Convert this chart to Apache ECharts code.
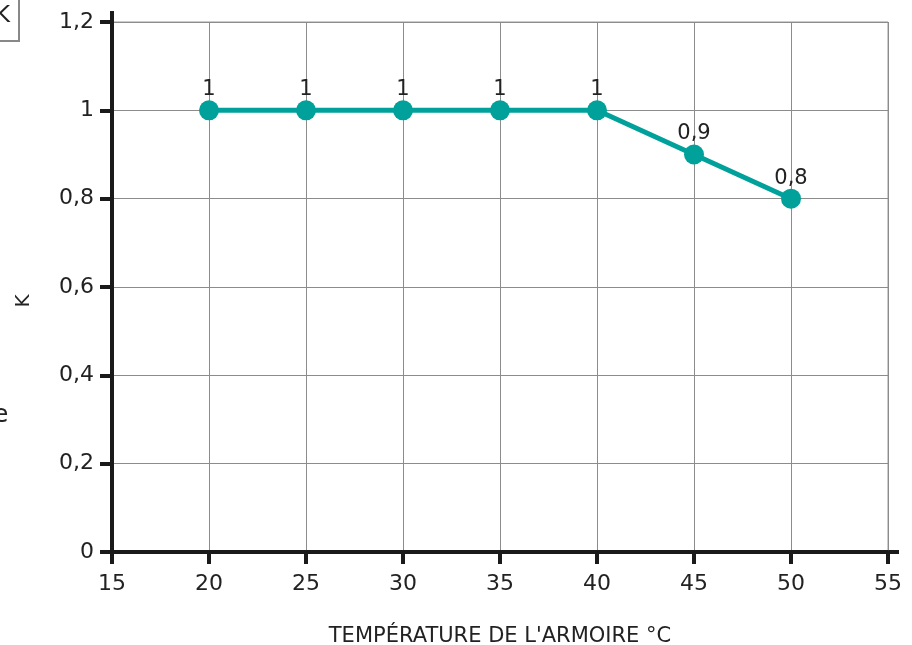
<!DOCTYPE html>
<html><head><meta charset="utf-8">
<script src="https://cdn.jsdelivr.net/npm/echarts@6/dist/echarts.min.js"></script>
<style>html,body{margin:0;padding:0;background:#fff}#c{width:912px;height:645px}</style>
</head><body><div id="c"></div>
<script>
const temperatures = [20, 25, 30, 35, 40, 45, 50];
const kValues = [1, 1, 1, 1, 1, 0.9, 0.8];
const xTicks = [15, 20, 25, 30, 35, 40, 45, 50, 55];
const yTicks = [0, 0.2, 0.4, 0.6, 0.8, 1, 1.2];
const xName = "TEMPÉRATURE DE L'ARMOIRE °C";
const yName = "K";

const font = 'DejaVu Sans';
const fmt = v => String(Math.round(v * 10) / 10).replace('.', ',');
const chart = echarts.init(document.getElementById('c'));
const extras = [
  { type: 'rect', left: -10, top: -10, shape: { width: 28, height: 50 }, style: { fill: '#fff', stroke: '#888', lineWidth: 2 } },
  { type: 'text', left: -5, top: 5, style: { text: 'K', font: '23px DejaVu Sans', fill: '#222' } },
  { type: 'text', left: -7, top: 403, style: { text: 'e', font: '25px DejaVu Sans', fill: '#222' } }
];
chart.setOption({
  animation: false,
  textStyle: { fontFamily: font },
  grid: { left: 112, right: 24, top: 22, bottom: 93, show: true, borderColor: '#999', borderWidth: 1, containLabel: false, outerBoundsMode: 'none' },
  xAxis: {
    type: 'value', min: xTicks[0], max: xTicks[xTicks.length - 1], interval: 5,
    name: xName, nameLocation: 'middle', nameGap: 74,
    nameTextStyle: { fontSize: 21, color: '#222', fontFamily: font },
    axisLine: { lineStyle: { color: '#1a1a1a', width: 4 } },
    axisTick: { length: 12, lineStyle: { color: '#1a1a1a', width: 4 } },
    axisLabel: { fontSize: 22, color: '#222', margin: 21 },
    splitLine: { show: true, lineStyle: { color: '#8c8c8c', width: 1 } }
  },
  yAxis: {
    type: 'value', min: yTicks[0], max: yTicks[yTicks.length - 1], interval: 0.2,
    name: yName, nameLocation: 'middle', nameGap: 78, nameRotate: 90,
    nameTextStyle: { fontSize: 20, color: '#222', fontFamily: font, padding: [0, 28, 0, 0] },
    axisLine: { lineStyle: { color: '#1a1a1a', width: 4 } },
    axisTick: { length: 12, lineStyle: { color: '#1a1a1a', width: 4 } },
    axisLabel: { fontSize: 22, color: '#222', margin: 18, formatter: fmt },
    splitLine: { show: true, lineStyle: { color: '#8c8c8c', width: 1 } }
  },
  series: [{
    type: 'line',
    data: temperatures.map((t, i) => [t, kValues[i]]),
    symbol: 'circle', symbolSize: 20,
    lineStyle: { color: '#00A19A', width: 5 },
    itemStyle: { color: '#00A19A' },
    label: { show: true, position: 'top', distance: 0, fontSize: 21, color: '#222', formatter: p => fmt(p.value[1]) }
  }],
  graphic: extras
});
// extend axis lines slightly beyond the plot area, as in the reference
const p0 = chart.convertToPixel({ gridIndex: 0 }, [xTicks[0], yTicks[0]]);
const p1 = chart.convertToPixel({ gridIndex: 0 }, [xTicks[xTicks.length - 1], yTicks[yTicks.length - 1]]);
chart.setOption({ graphic: extras.concat([
  { type: 'line', shape: { x1: p1[0], y1: p0[1], x2: p1[0] + 11, y2: p0[1] }, style: { stroke: '#1a1a1a', lineWidth: 4 } },
  { type: 'line', shape: { x1: p0[0], y1: p1[1], x2: p0[0], y2: p1[1] - 11 }, style: { stroke: '#1a1a1a', lineWidth: 4 } }
]) });
</script></body></html>
